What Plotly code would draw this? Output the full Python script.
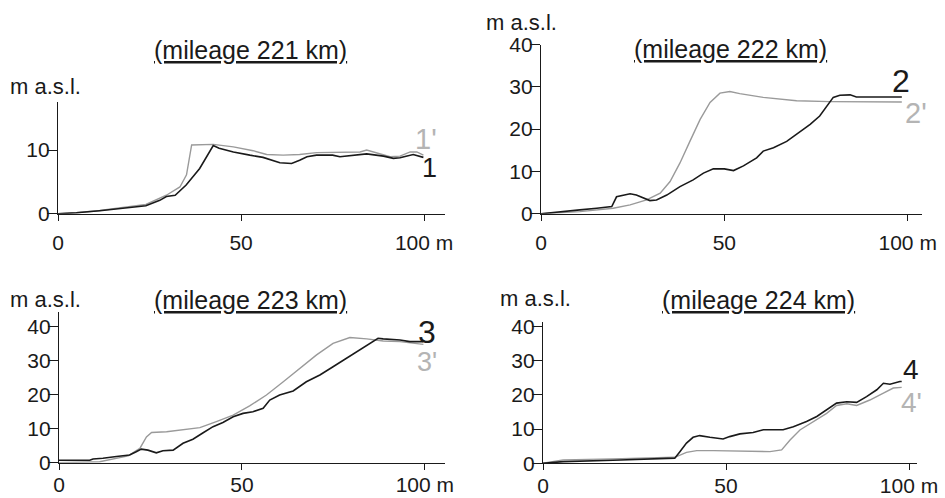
import plotly.graph_objects as go

# ---------------- data (distance m, elevation m a.s.l.) ----------------
x1 = [0, 5, 11.4, 18, 24, 27.8, 29.6, 32, 35, 38.7, 42.4, 44, 47.9, 52.4, 56, 60.6, 63.8, 66, 68, 70.6, 75, 77, 79.8, 84.3, 88.9, 91.6, 93.4, 97, 99.8]
y1 = [0, 0.15, 0.47, 0.85, 1.25, 2.1, 2.7, 2.9, 4.5, 7.1, 10.7, 10.3, 9.7, 9.2, 8.85, 8.0, 7.9, 8.4, 8.95, 9.2, 9.2, 8.95, 9.1, 9.4, 9.05, 8.7, 8.8, 9.3, 8.85]
x1p = [0, 5, 11.4, 18, 24, 29.6, 33.3, 35.1, 36.5, 42.4, 47.9, 53.3, 57, 61.5, 66, 70.6, 75.2, 79.8, 82.5, 84.3, 87, 90.7, 93.4, 96.2, 98, 99.8]
y1p = [0, 0.15, 0.5, 0.95, 1.45, 2.9, 4.2, 6.1, 10.8, 10.9, 10.5, 9.9, 9.3, 9.2, 9.3, 9.6, 9.6, 9.6, 9.7, 10.0, 9.6, 8.95, 9.05, 9.7, 9.7, 9.2]

x2 = [0, 6.1, 10.6, 15.2, 19.3, 20.6, 22.5, 24.3, 26, 27.9, 29.7, 31.5, 34.3, 37.9, 41.5, 44.3, 47, 50, 52.5, 55.2, 58.8, 60.6, 63.4, 67, 69.7, 73.4, 76, 77.9, 79.7, 81.5, 84.3, 86, 92.5, 98.4]
y2 = [0, 0.6, 0.9, 1.3, 1.7, 4.0, 4.4, 4.7, 4.4, 3.65, 3.1, 3.25, 4.4, 6.4, 8.0, 9.6, 10.6, 10.6, 10.2, 11.3, 13.2, 14.8, 15.6, 17.1, 18.7, 21.1, 23.1, 25.3, 27.5, 28.0, 28.1, 27.6, 27.6, 27.6]
x2p = [0, 10.6, 19.7, 24.3, 28.8, 32.5, 35.2, 37.9, 40.6, 43.4, 46.1, 48.8, 51.5, 54.2, 60.6, 69.7, 78.8, 87.9, 98.4]
y2p = [0, 0.5, 1.3, 2.1, 3.25, 4.85, 7.6, 12.0, 17.1, 22.3, 26.3, 28.5, 28.9, 28.4, 27.5, 26.7, 26.5, 26.5, 26.4]

x3 = [0, 8.4, 9.3, 12, 15.7, 19.3, 21.1, 22.5, 24.3, 26.6, 28.4, 31.2, 33.9, 36.6, 39.4, 42.1, 44.8, 47.6, 50.3, 53, 55.8, 57.6, 60.3, 64, 67.6, 71.3, 74.9, 78.6, 82.2, 85, 87.2, 88.6, 93.2, 95.9, 99.4, 99.8]
y3 = [0.7, 0.7, 1.1, 1.3, 1.8, 2.25, 3.2, 4.0, 3.7, 2.9, 3.5, 3.7, 5.7, 6.9, 8.8, 10.6, 11.8, 13.5, 14.5, 15.0, 16.0, 18.4, 19.9, 21.1, 23.8, 25.8, 28.2, 30.7, 33.1, 35.1, 36.6, 36.4, 36.1, 35.6, 35.6, 36.0]
x3p = [0, 11.1, 18.9, 22.1, 23.9, 25.3, 29.4, 33.9, 38.5, 43, 47.6, 52.1, 56.7, 61.3, 65.8, 70.4, 74.9, 79.5, 84.1, 88.6, 93.2, 99.6]
y3p = [0, 0.3, 2.0, 4.2, 7.6, 8.9, 9.1, 9.6, 10.3, 12.1, 14.0, 16.7, 19.9, 23.8, 27.7, 31.7, 35.1, 36.8, 36.4, 35.8, 35.6, 34.8]

x4 = [0, 5.5, 19.1, 28.3, 31.9, 33.7, 36, 37.4, 39.2, 41, 42.8, 45.6, 49.2, 51, 53.8, 57.4, 60.2, 62.9, 65.6, 68.4, 72, 74.8, 77.5, 80.2, 83, 85.7, 88.4, 91.2, 93, 94.8, 97.5, 98]
y4 = [0, 0.5, 0.9, 1.2, 1.5, 1.4, 1.5, 3.4, 5.9, 7.6, 8.1, 7.6, 7.1, 7.8, 8.6, 9.0, 9.8, 9.8, 9.8, 10.7, 12.2, 13.7, 15.6, 17.6, 18.0, 17.8, 19.5, 21.5, 23.4, 23.1, 23.9, 23.9]
x4p = [0, 5.5, 19.1, 28.3, 36, 39.2, 42, 46.6, 55.6, 62, 65.2, 67.5, 70.2, 73.8, 77.5, 80.2, 83, 85.7, 89.3, 93, 95.7, 98]
y4p = [0, 1.0, 1.3, 1.65, 1.75, 3.2, 3.7, 3.7, 3.4, 3.4, 3.9, 6.8, 9.75, 12.2, 14.6, 16.9, 17.4, 16.9, 18.5, 20.5, 22.0, 22.2]

titles = ["(mileage 221 km)", "(mileage 222 km)", "(mileage 223 km)", "(mileage 224 km)"]
x_tickvals = [0, 50, 100]
x_ticktext = ["0", "50", "100 m"]
y_unit = "m a.s.l."
labels = [("1", "1'"), ("2", "2'"), ("3", "3'"), ("4", "4'")]

W, H = 945, 498
BLACK = "#1a1a1a"
GRAY = "#9a9a9a"
LGRAY = "#b4b4b4"
FONT = "Liberation Sans, Arial, sans-serif"

# panel geometry in pixels: (x0px, x1px, xmax, ybottom_px, ytop_px, ymax, xlabel standoff)
panels = [
    (58, 445, 105.7, 213.7, 101.7, 17.6, 4),
    (541, 922, 103.9, 213.7, 44.5, 40.0, 4),
    (59, 445, 105.5, 462.7, 311.7, 44.4, -3),
    (543, 916.7, 102.1, 463.3, 321.7, 41.4, -3),
]
series = [(x1, y1, x1p, y1p), (x2, y2, x2p, y2p), (x3, y3, x3p, y3p), (x4, y4, x4p, y4p)]

fig = go.Figure()
layout = dict(
    width=W, height=H, margin=dict(l=0, r=0, t=0, b=0, pad=0),
    paper_bgcolor="white", plot_bgcolor="white", showlegend=False,
    font=dict(family=FONT, color=BLACK),
)

for i, ((px0, px1, xmax, pyb, pyt, ymax, xso), (xa, ya, xb, yb)) in enumerate(zip(panels, series)):
    n = "" if i == 0 else str(i + 1)
    fig.add_trace(go.Scatter(x=xb, y=yb, mode="lines", line=dict(color=GRAY, width=1.4),
                             xaxis="x" + n, yaxis="y" + n, hoverinfo="skip"))
    fig.add_trace(go.Scatter(x=xa, y=ya, mode="lines", line=dict(color=BLACK, width=1.6),
                             xaxis="x" + n, yaxis="y" + n, hoverinfo="skip"))
    layout["xaxis" + n] = dict(
        domain=[px0 / W, px1 / W], range=[0, xmax], anchor="y" + n, automargin=False,
        showgrid=False, zeroline=False, showline=True, linecolor=BLACK, linewidth=1.3,
        ticks="outside", ticklen=6, tickcolor=BLACK, tickwidth=1.2,
        tickvals=x_tickvals, ticktext=x_ticktext, ticklabelstandoff=xso,
        tickfont=dict(size=21, color=BLACK, family=FONT), fixedrange=True,
    )
    layout["yaxis" + n] = dict(
        domain=[1 - pyb / H, 1 - pyt / H], range=[0, ymax], anchor="x" + n, automargin=False,
        showgrid=False, zeroline=False, showline=True, linecolor=BLACK, linewidth=1.3,
        ticks="outside", ticklen=10, tickcolor=BLACK, tickwidth=1.2, dtick=10,
        ticklabelstandoff=-7,
        tickfont=dict(size=21, color=BLACK, family=FONT), fixedrange=True,
    )

annotations = []
title_pos = [(250, 50), (730, 49), (250, 300), (758, 300)]
for t, (tx, ty) in zip(titles, title_pos):
    annotations.append(dict(text="<u>" + t + "</u>", x=tx / W, y=1 - ty / H, xref="paper", yref="paper",
                            showarrow=False, xanchor="center", yanchor="middle",
                            font=dict(size=25, color=BLACK, family=FONT)))
unit_pos = [(45.5, 86), (521.7, 22.5), (45, 299), (535.8, 298.3)]
for ux, uy in unit_pos:
    annotations.append(dict(text=y_unit, x=ux / W, y=1 - uy / H, xref="paper", yref="paper",
                            showarrow=False, xanchor="center", yanchor="middle",
                            font=dict(size=22, color=BLACK, family=FONT)))

# curve labels (data coords)
lab_pos = [((101.6, 7.2, 27), (100.5, 11.7, 29)),
           ((98.1, 31.4, 32), (102.2, 23.7, 29)),
           ((100.5, 38.5, 32), (100.5, 29.7, 27)),
           ((100.6, 27.3, 28), (100.7, 17.8, 28))]
for i, ((lb, lbp), ((ax, ay, asz), (bx, by, bsz))) in enumerate(zip(labels, lab_pos)):
    n = "" if i == 0 else str(i + 1)
    annotations.append(dict(text=lb, x=ax, y=ay, xref="x" + n, yref="y" + n, showarrow=False,
                            font=dict(size=asz, color=BLACK, family=FONT)))
    annotations.append(dict(text=lbp, x=bx, y=by, xref="x" + n, yref="y" + n, showarrow=False,
                            font=dict(size=bsz, color=LGRAY, family=FONT)))

layout["annotations"] = annotations
fig.update_layout(**layout)
fig.write_html("out.html", config={"displayModeBar": False},
               post_script="document.body.style.margin='0px';document.body.style.overflow='hidden';")
